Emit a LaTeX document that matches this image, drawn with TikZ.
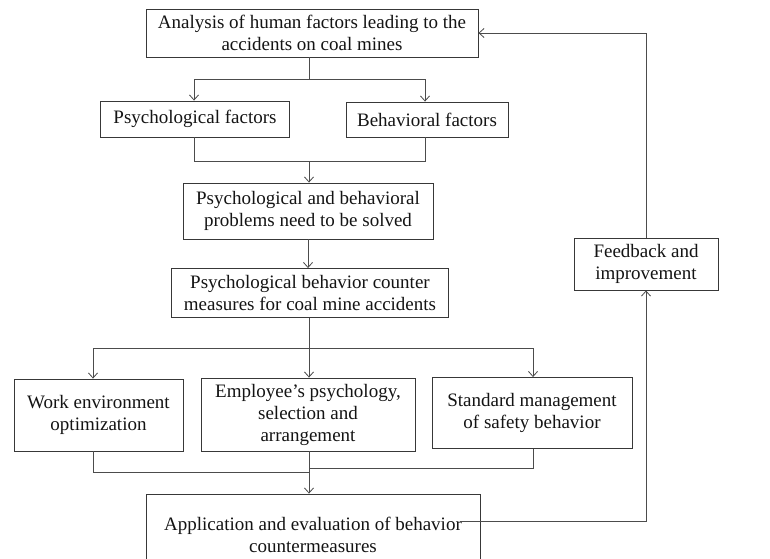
\documentclass[tikz,border=0pt]{standalone}
\usepackage{fontspec}
\setmainfont{Liberation Serif}
\usetikzlibrary{arrows.meta}
\begin{document}
\begin{tikzpicture}[x=1pt,y=-1pt,
  box/.style={draw=black!78, line width=0.9pt, inner sep=0pt, align=center,
    font=\fontsize{19}{22}\selectfont, text=black!92},
  conn/.style={draw=black!70, line width=0.9pt},
  arr/.style={conn, -{Straight Barb[length=5pt,width=9pt,line width=0.8pt]}}]
\useasboundingbox (0,0) rectangle (770,558);
\clip (0,0) rectangle (770,558);
\fill[white] (0,0) rectangle (770,558);
% nodes
\node[box, minimum width=332pt, minimum height=48pt] (top) at (312,33)
  {Analysis of human factors leading to the\\accidents on coal mines};
\node[box, minimum width=189pt, minimum height=36pt] (psych) at (195,119)
  {Psychological factors};
\node[box, minimum width=162pt, minimum height=35pt] (behav) at (427,119.5)
  {Behavioral factors};
\node[box, minimum width=250pt, minimum height=56pt] (prob) at (308,211)
  {Psychological and behavioral\\problems need to be solved};
\node[box, minimum width=277pt, minimum height=49pt] (cm) at (310,293)
  {Psychological behavior counter\\measures for coal mine accidents};
\node[box, minimum width=169pt, minimum height=72pt] (work) at (98.5,415)
  {Work environment\\optimization};
\node[box, minimum width=214pt, minimum height=73pt] (emp) at (308,414.5)
  {Employee’s psychology,\\selection and\\arrangement};
\node[box, minimum width=200pt, minimum height=71pt] (std) at (532,413)
  {Standard management\\of safety behavior};
\node[box, minimum width=334pt, minimum height=81pt] (app) at (313,534.5)
  {Application and evaluation of behavior\\countermeasures};
\node[box, minimum width=144pt, minimum height=52pt] (fb) at (646,264)
  {Feedback and\\improvement};
% junction coordinates
\coordinate (j1) at (309,79);
\coordinate (m1) at (309,161);
\coordinate (j2) at (309,348);
\coordinate (m2l) at (309,472);
\coordinate (m2r) at (309,468);
\coordinate (fbs) at (460,521);
% connectors
\draw[conn] (j1 |- top.south) -- (j1);
\draw[arr] (j1) -| ([xshift=-1pt]psych.north);
\draw[arr] (j1) -| ([xshift=-2pt]behav.north);
\draw[conn] ([xshift=-1pt]psych.south) |- (m1);
\draw[conn] ([xshift=-2pt]behav.south) |- (m1);
\draw[arr] (m1) -- (m1 |- prob.north);
\draw[arr] (prob.south) -- (prob.south |- cm.north);
\draw[conn] (j2 |- cm.south) -- (j2);
\draw[arr] (j2) -| ([xshift=-5.5pt]work.north);
\draw[arr] (j2) -- (j2 |- emp.north);
\draw[arr] (j2) -| ([xshift=1pt]std.north);
\draw[conn] ([xshift=-5.5pt]work.south) |- (m2l);
\draw[conn] ([xshift=1pt]std.south) |- (m2r);
\draw[arr] (emp.south -| j2) -- (j2 |- app.north);
\draw[arr] (fbs) -| (fb.south);
\draw[arr] (fb.north) |- (top.east);
\end{tikzpicture}
\end{document}
